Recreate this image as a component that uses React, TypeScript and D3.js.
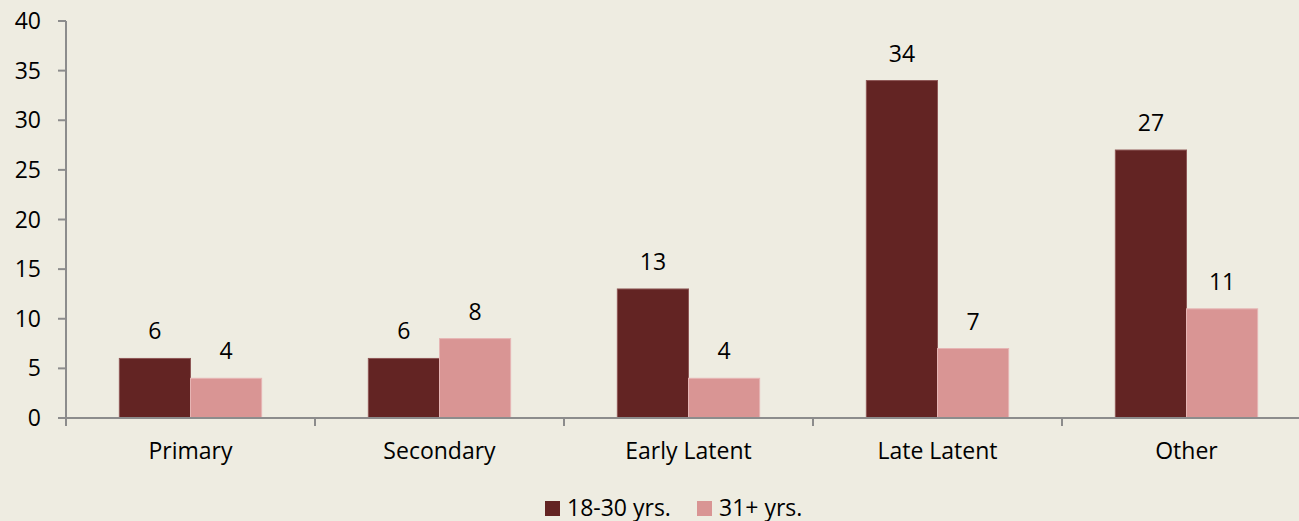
import React from "react";
import * as d3 from "d3";

const categories = ["Primary", "Secondary", "Early Latent", "Late Latent", "Other"];
const seriesNames = ["18-30 yrs.", "31+ yrs."];
const young = [6, 6, 13, 34, 27];
const older = [4, 8, 4, 7, 11];
const yTicks = [0, 5, 10, 15, 20, 25, 30, 35, 40];

const W = 1299;
const H = 521;
const colors = ["#632423", "#D99594"];
const strokes = ["#8E5756", "#E6B5B4"];
const font = "'Open Sans', sans-serif";
const fs = 23;

export default function App() {
  const left = 66;
  const right = 1311;
  const top = 21;
  const bottom = 418;

  const x = d3.scaleBand<string>().domain(categories).range([left, right]).paddingInner(0).paddingOuter(0);
  const y = d3.scaleLinear().domain([0, 40]).range([bottom, top]);
  const band = x.bandwidth();
  const barW = band / 3.5;
  const gap = (band - 2 * barW) / 2;
  const series = [young, older];

  return (
    <svg width={W} height={H} style={{ position: "absolute", left: 0, top: 0, display: "block" }} fontFamily={font}>
      <rect x={0} y={0} width={W} height={H} fill="#EEECE1" />
      {/* bars */}
      {categories.map((c, i) =>
        series.map((s, k) => {
          const bx = (x(c) as number) + gap + k * barW;
          const by = y(s[i]);
          return (
            <g key={c + k}>
              <rect x={bx} y={by} width={barW} height={bottom - by} fill={colors[k]} stroke={strokes[k]} strokeWidth={1} />
              <text x={bx + barW / 2} y={by - 19} textAnchor="middle" fontSize={fs} fill="#000">
                {s[i]}
              </text>
            </g>
          );
        })
      )}
      {/* y axis */}
      <line x1={left} x2={left} y1={top} y2={bottom + 8} stroke="#8C8C8C" strokeWidth={2} />
      {yTicks.map((t) => (
        <g key={t}>
          <line x1={left - 8} x2={left} y1={y(t)} y2={y(t)} stroke="#8C8C8C" strokeWidth={2} />
          <text x={41} y={y(t) + 8} textAnchor="end" fontSize={fs} fill="#000">
            {t}
          </text>
        </g>
      ))}
      {/* x axis */}
      <line x1={left - 8} x2={right} y1={bottom} y2={bottom} stroke="#8C8C8C" strokeWidth={2} />
      {categories.map((c, i) => (
        <g key={c}>
          {i > 0 && (
            <line x1={x(c) as number} x2={x(c) as number} y1={bottom} y2={bottom + 8} stroke="#8C8C8C" strokeWidth={2} />
          )}
          <text x={(x(c) as number) + band / 2} y={459} textAnchor="middle" fontSize={fs} fill="#000">
            {c}
          </text>
        </g>
      ))}
      {/* legend */}
      {seriesNames.map((n, k) => {
        const lx = k === 0 ? 545 : 697;
        return (
          <g key={n}>
            <rect x={lx} y={501} width={15} height={15} fill={colors[k]} />
            <text x={lx + 22} y={516} fontSize={fs} fill="#000">
              {n}
            </text>
          </g>
        );
      })}
    </svg>
  );
}
